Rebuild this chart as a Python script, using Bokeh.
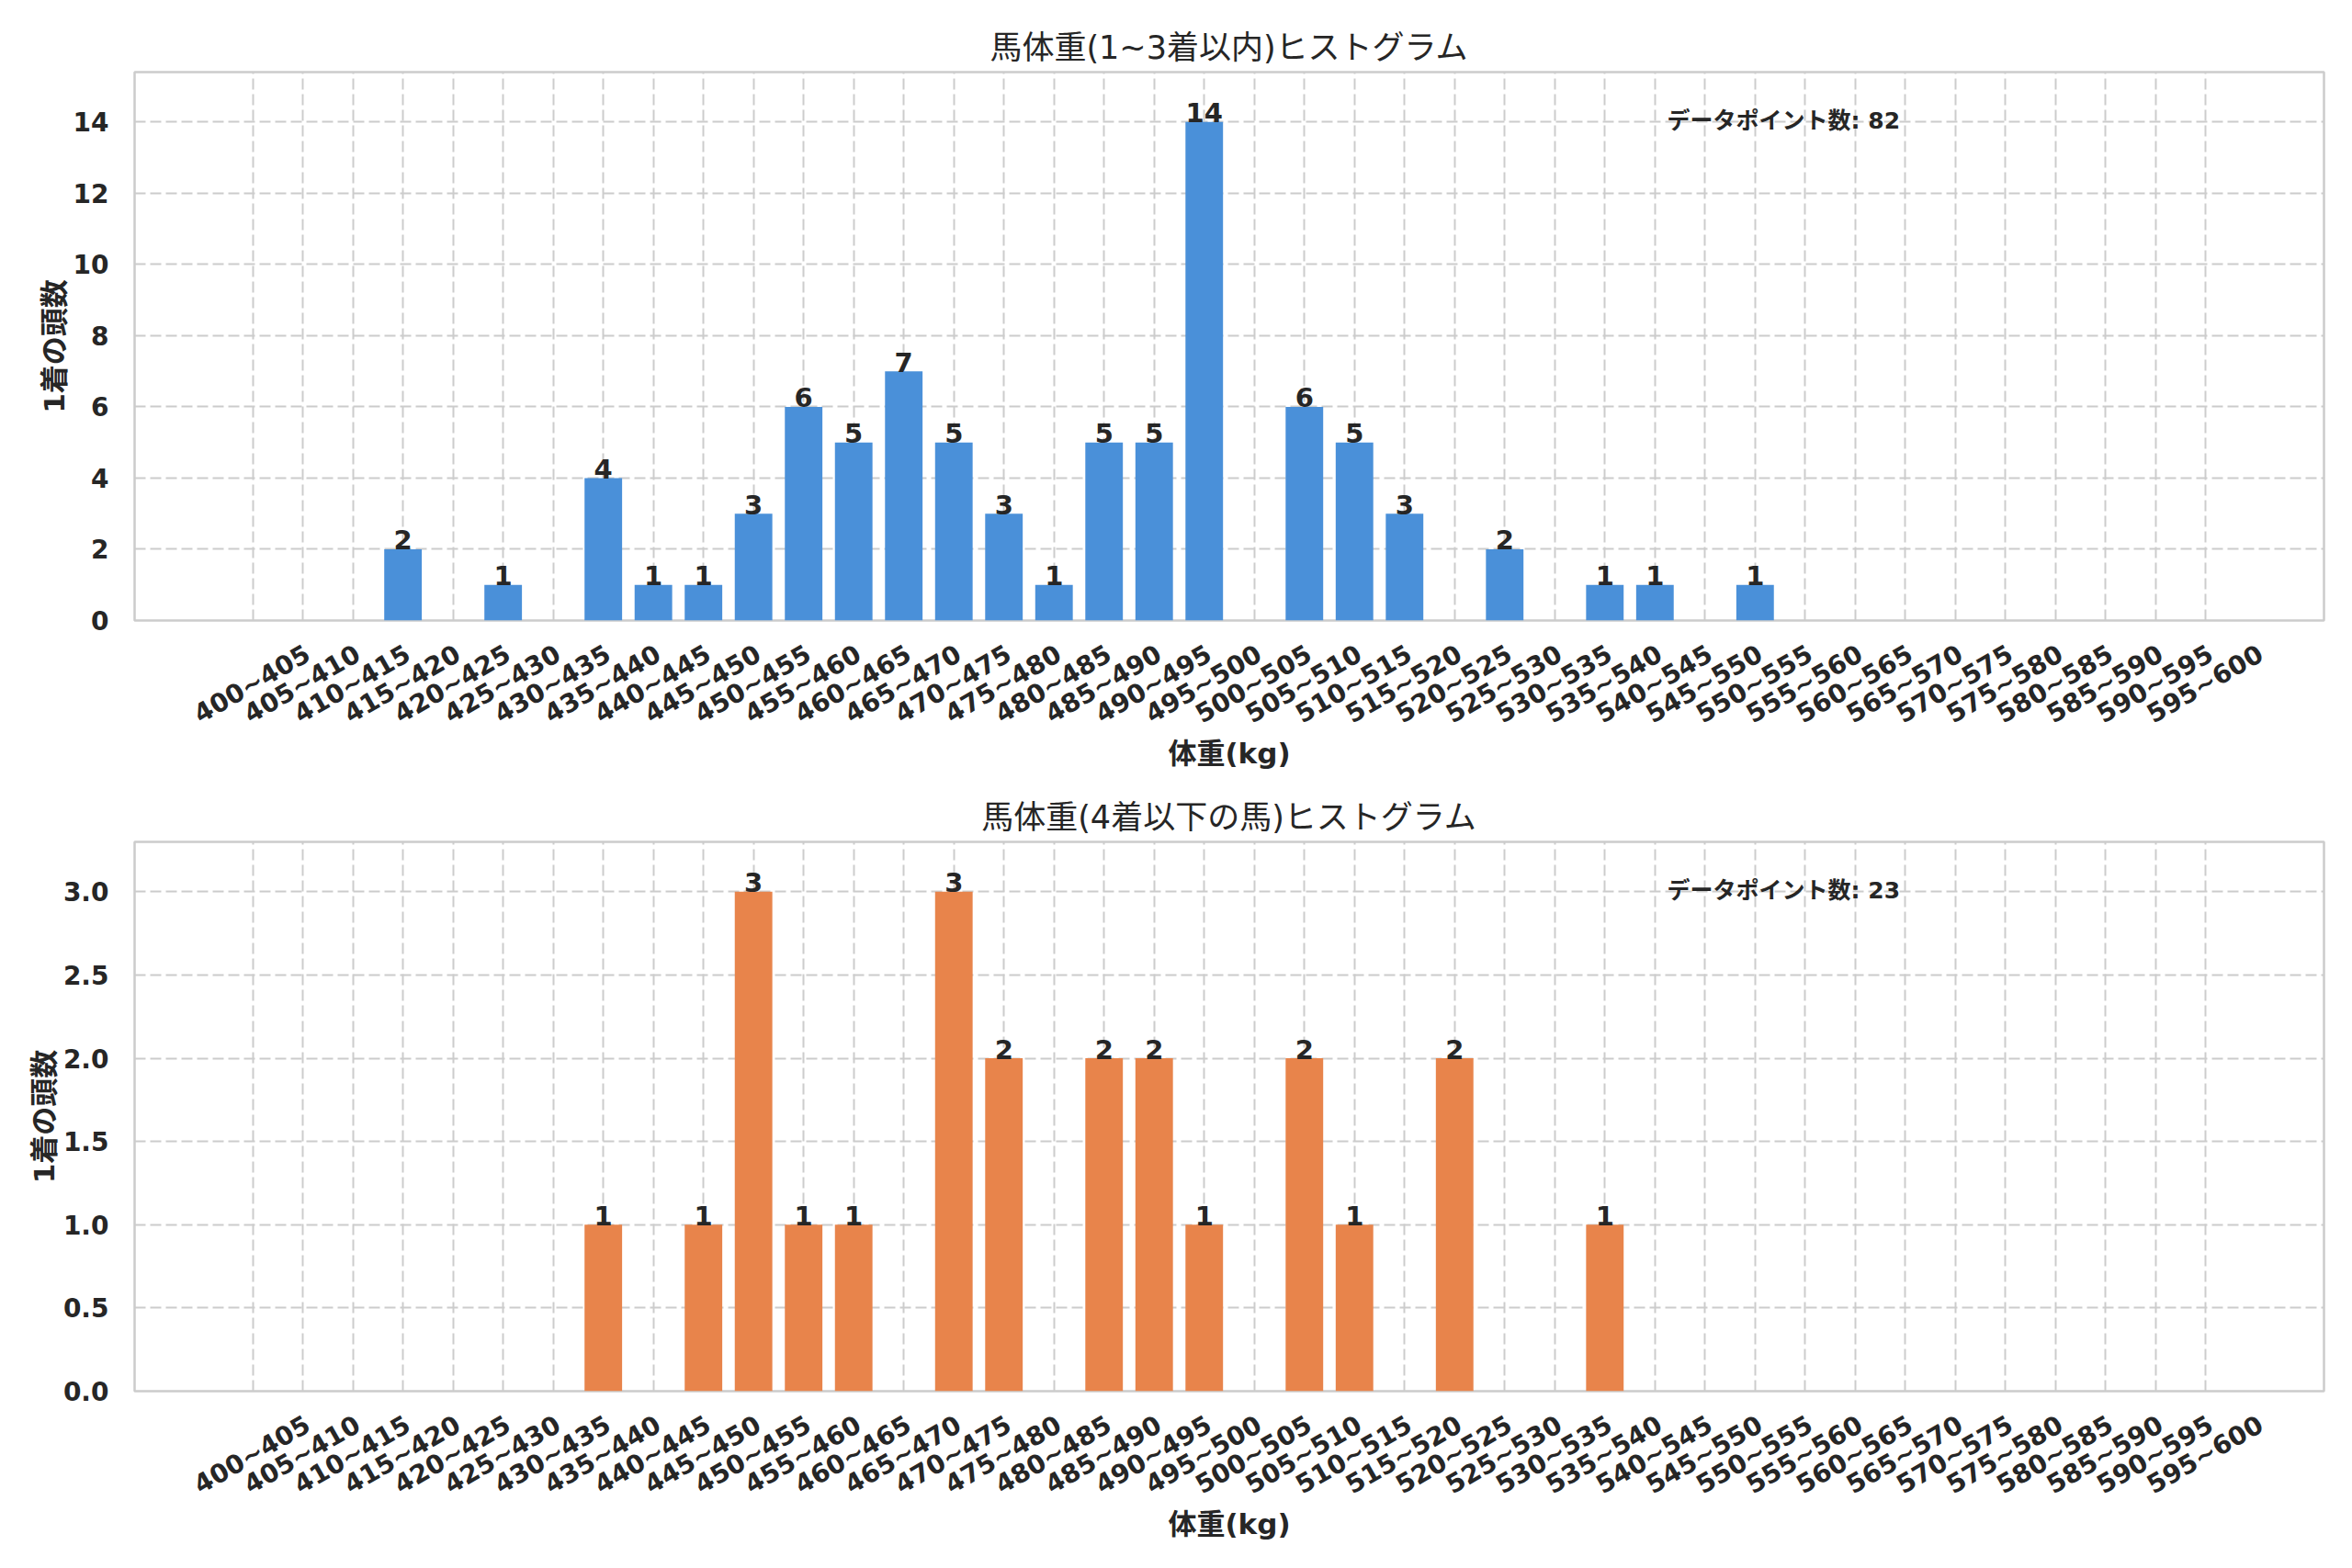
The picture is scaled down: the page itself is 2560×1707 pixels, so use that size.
import math
from bokeh.plotting import figure
from bokeh.models import (ColumnDataSource, Range1d, LinearAxis, FixedTicker, Grid, Label,
                          NumeralTickFormatter)
from bokeh.layouts import column
from bokeh.embed import file_html
from bokeh.resources import INLINE
from bokeh.core.properties import value

# ---------------- data ----------------
bins = ["400~405", "405~410", "410~415", "415~420", "420~425", "425~430", "430~435", "435~440",
        "440~445", "445~450", "450~455", "455~460", "460~465", "465~470", "470~475", "475~480",
        "480~485", "485~490", "490~495", "495~500", "500~505", "505~510", "510~515", "515~520",
        "520~525", "525~530", "530~535", "535~540", "540~545", "545~550", "550~555", "555~560",
        "560~565", "565~570", "570~575", "575~580", "580~585", "585~590", "590~595", "595~600"]

top_counts = [0, 0, 0, 2, 0, 1, 0, 4, 1, 1, 3, 6, 5, 7, 5, 3, 1, 5, 5, 14,
              0, 6, 5, 3, 0, 2, 0, 1, 1, 0, 1, 0, 0, 0, 0, 0, 0, 0, 0, 0]
bottom_counts = [0, 0, 0, 0, 0, 0, 0, 1, 0, 1, 3, 1, 1, 0, 3, 2, 0, 2, 2, 1,
                 0, 2, 1, 0, 2, 0, 0, 1, 0, 0, 0, 0, 0, 0, 0, 0, 0, 0, 0, 0]

top_title = "馬体重(1~3着以内)ヒストグラム"
bottom_title = "馬体重(4着以下の馬)ヒストグラム"
x_label = "体重(kg)"
y_label = "1着の頭数"
note_prefix = "データポイント数"
top_yticks = [0, 2, 4, 6, 8, 10, 12, 14]
bottom_yticks = [0.0, 0.5, 1.0, 1.5, 2.0, 2.5, 3.0]

BLUE = "#4a90d9"
ORANGE = "#e8844b"
TXT = "#262626"
GRIDC = "#cccccc"
FONT = "DejaVu Sans, Noto Sans CJK JP"

W = 2544
SHIFT = 1.10   # label anchor offset (right end of rotated label)
PAD = 2.36


def make(counts, color, title, yticks, yfmt, height, border_top, border_bottom):
    n = len(bins)
    xs = list(range(n))
    x0, x1 = -PAD, n - 1 + PAD
    ymax = max(counts) * 1.1
    p = figure(width=W, height=height, x_range=Range1d(x0, x1), y_range=Range1d(0, ymax),
               output_backend="svg", toolbar_location=None, x_axis_location=None,
               min_border_left=146, min_border_right=15, min_border_top=border_top,
               min_border_bottom=border_bottom)
    p.background_fill_color = "white"
    p.border_fill_color = "white"
    p.outline_line_color = GRIDC
    p.outline_line_width = 2.5

    # title
    p.title.text = title
    p.title.align = "center"
    p.title.text_font = FONT
    p.title.text_font_size = "35px"
    p.title.text_font_style = "normal"
    p.title.text_color = TXT
    p.title.standoff = 14

    # y axis
    yax = p.yaxis[0]
    yax.ticker = FixedTicker(ticks=yticks)
    if yfmt:
        yax.formatter = NumeralTickFormatter(format=yfmt)
    yax.axis_line_color = None
    yax.major_tick_line_color = None
    yax.minor_tick_line_color = None
    yax.major_label_text_font = FONT
    yax.major_label_text_font_size = "28px"
    yax.major_label_text_font_style = "bold"
    yax.major_label_text_color = TXT
    yax.major_label_standoff = 22
    yax.axis_label = y_label
    yax.axis_label_text_font = FONT
    yax.axis_label_text_font_size = "31px"
    yax.axis_label_text_font_style = "bold"
    yax.axis_label_text_color = TXT
    yax.axis_label_standoff = 0

    # grids
    p.ygrid.ticker = FixedTicker(ticks=yticks)
    p.ygrid.grid_line_color = GRIDC
    p.ygrid.grid_line_width = 2
    p.ygrid.grid_line_dash = "12 5"
    p.xgrid.visible = False
    xg = Grid(dimension=0, ticker=FixedTicker(ticks=xs), grid_line_color=GRIDC,
              grid_line_width=2, grid_line_dash="12 5")
    p.add_layout(xg)

    # x axis (labels anchored at their right end)
    p.extra_x_ranges = {"lab": Range1d(x0 - SHIFT, x1 - SHIFT)}
    xax = LinearAxis(x_range_name="lab", ticker=FixedTicker(ticks=xs),
                     major_label_overrides={i: b for i, b in enumerate(bins)})
    xax.major_label_orientation = math.pi / 6
    xax.axis_line_color = None
    xax.major_tick_line_color = None
    xax.minor_tick_line_color = None
    xax.major_tick_out = 0
    xax.major_tick_in = 0
    xax.major_label_standoff = 34
    xax.major_label_text_font = FONT
    xax.major_label_text_font_size = "28px"
    xax.major_label_text_font_style = "bold"
    xax.major_label_text_color = TXT
    xax.axis_label = x_label
    xax.axis_label_text_font = FONT
    xax.axis_label_text_font_size = "31px"
    xax.axis_label_text_font_style = "bold"
    xax.axis_label_text_color = TXT
    xax.axis_label_standoff = -9
    p.add_layout(xax, "below")

    # bars
    src = ColumnDataSource(dict(x=xs, top=counts))
    p.vbar(x="x", top="top", width=0.75, source=src, fill_color=color, line_color=None)

    # value labels
    lx = [x for x, c in zip(xs, counts) if c > 0]
    ly = [c for c in counts if c > 0]
    lt = [str(c) for c in counts if c > 0]
    lsrc = ColumnDataSource(dict(x=lx, y=ly, t=lt))
    p.text(x="x", y="y", text="t", source=lsrc, text_align="center",
           text_baseline="alphabetic", text_font=value(FONT), text_font_size="29px",
           text_font_style="bold", text_color=TXT, y_offset=-10)

    # count annotation
    note = Label(x=x0 + 0.70 * (x1 - x0), y=ymax * 0.912,
                 text=f"{note_prefix}: {sum(counts)}",
                 text_align="left", text_baseline="middle", text_font=FONT,
                 text_font_size="25px", text_font_style="bold", text_color=TXT)
    p.add_layout(note)
    return p


p1 = make(top_counts, BLUE, top_title, top_yticks, None, 841, 78, 164)
p2 = make(bottom_counts, ORANGE, bottom_title, bottom_yticks, "0.0", 850, 75, 177)

layout = column(p1, p2, spacing=0)
open("out.html", "w").write(file_html(layout, INLINE))
